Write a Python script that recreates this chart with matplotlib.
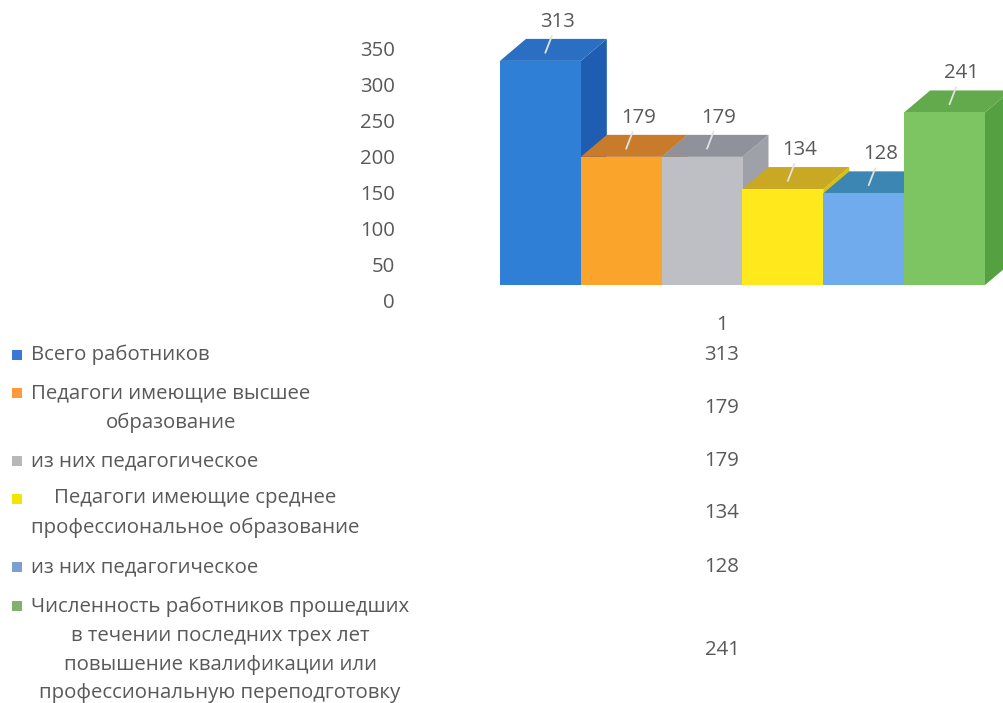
import matplotlib
matplotlib.use("Agg")
import matplotlib.pyplot as plt
from matplotlib.patches import Polygon, Rectangle

plt.rcParams['font.family'] = ['Open Sans', 'DejaVu Sans']

# ---- data ----
CATEGORIES = ['1']
SERIES = [
    'Всего работников',
    'Педагоги имеющие высшее\nобразование',
    'из них педагогическое',
    'Педагоги имеющие среднее\nпрофессиональное образование',
    'из них педагогическое',
    'Численность работников прошедших\nв течении последних трех лет\nповышение квалификации или\nпрофессиональную переподготовку',
]
VALUES = [313, 179, 179, 134, 128, 241]
Y_TICKS = [0, 50, 100, 150, 200, 250, 300, 350]

# ---- style ----
FRONT = ['#2F7FD6', '#FBA42C', '#BEBFC4', '#FFE81C', '#70ABEE', '#7DC563']
TOP = ['#2A6FC2', '#C97B2C', '#8F929A', '#C9A823', '#3B86B2', '#62AA4C']
SIDE = ['#1E5DB2', '#D98A22', '#9FA1A8', '#D8C010', '#4F8FD0', '#55A040']
KEY = ['#3A78D8', '#FF9A3C', '#B8B8BC', '#F2E600', '#7A9FD0', '#7DB36A']
TXT = '#595959'
FS = 14.7

W, H = 1004, 703
fig = plt.figure(figsize=(W / 100, H / 100), dpi=100)


def px_rect(left, top, width, height):
    return [left / W, 1 - (top + height) / H, width / W, height / H]


PX_PER_UNIT = 0.716
BASE = 285
ax = fig.add_axes(px_rect(500, BASE - PX_PER_UNIT * 350, 485, PX_PER_UNIT * 350))
ax.set_xlim(-0.5, 5.5)
ax.set_ylim(0, 350)
ax.axis('off')

px_x = 485 / 6.0
DX = 26 / px_x
DY = 22 / PX_PER_UNIT

for i, v in enumerate(VALUES):
    x0, x1 = i - 0.5, i + 0.5
    side = Polygon([(x1, 0), (x1 + DX, DY), (x1 + DX, v + DY), (x1, v)],
                   closed=True, facecolor=SIDE[i], edgecolor='none', clip_on=False, zorder=2 + i * 3)
    top = Polygon([(x0, v), (x0 + DX, v + DY), (x1 + DX, v + DY), (x1, v)],
                  closed=True, facecolor=TOP[i], edgecolor='none', clip_on=False, zorder=3 + i * 3)
    ax.add_patch(side)
    ax.add_patch(top)
    ax.bar(i, v, width=1.0, color=FRONT[i], edgecolor='none', zorder=4 + i * 3, clip_on=False)
    tc = (i - 0.1 + DX / 2, v + DY / 2 - 4)
    ax.annotate(str(v), xy=tc, xytext=(12, 31), textcoords='offset pixels',
                ha='center', va='center', fontsize=FS, color=TXT,
                arrowprops=dict(arrowstyle='-', color='#E2E2E2', lw=1.3, shrinkA=1, shrinkB=0),
                zorder=30, annotation_clip=False)

# value axis
axt = fig.add_axes(px_rect(400, 48, 1, 253))
axt.set_ylim(0, 350)
axt.set_yticks(Y_TICKS)
axt.set_yticklabels([str(t) for t in Y_TICKS])
axt.set_xticks([])
for s in axt.spines.values():
    s.set_visible(False)
axt.tick_params(axis='y', length=0, pad=3.6, labelsize=FS, labelcolor=TXT)
axt.patch.set_alpha(0)

# category label
fig.text(722 / W, 1 - 325 / H, CATEGORIES[0], ha='center', va='center', fontsize=FS, color=TXT)

# data table
ROW_CENTER = [355, 408, 461, 513, 567, 650]
ROW_FIRST = [355, 393, 461, 499, 567, 606]
for i, (lab, v) in enumerate(zip(SERIES, VALUES)):
    fig.text(31 / W, 1 - ROW_CENTER[i] / H, lab, ha='left', va='center', multialignment='center',
             fontsize=FS, color=TXT, linespacing=1.57)
    fig.text(722 / W, 1 - ROW_CENTER[i] / H, str(v), ha='center', va='center', fontsize=FS, color=TXT)
    fig.patches.append(Rectangle((12 / W, 1 - (ROW_FIRST[i] + 5) / H), 10 / W, 10 / H,
                                 transform=fig.transFigure, facecolor=KEY[i], edgecolor='none'))

fig.savefig('out.png', dpi=100)
